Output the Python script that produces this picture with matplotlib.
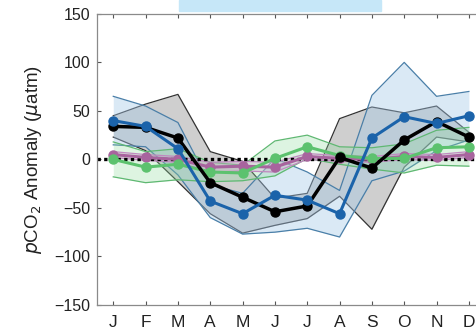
import numpy as np
import matplotlib
matplotlib.use('Agg')
from matplotlib import pyplot as plt
from matplotlib.patches import Rectangle

plt.rcParams['font.family'] = ['Liberation Sans', 'DejaVu Sans']

months = ['J', 'F', 'M', 'A', 'M', 'J', 'J', 'A', 'S', 'O', 'N', 'D']
month_num = np.arange(1, 13)

# mean anomaly and spread for each series (uatm)
black_mean = [34, 33, 22, -24, -39, -54, -48, 2, -9, 20, 39, 23]
black_sd = [11, 24, 45, 32, 37, 14, 13, 40, 63, 28, 16, 5]
blue_mean = [40, 34, 11, -43, -56, -37, -42, -56, 22, 44, 37, 45]
blue_sd = [25, 21, 27, 17, 21, 38, 29, 24, 44, 56, 28, 25]
green_mean = [0, -8, -5, -13, -14, 1, 13, 4, 1, 1, 12, 13]
green_sd = [18, 16, 16, 10, 8, 18, 12, 9, 11, 15, 18, 20]
purple_mean = [5, 2, 0, -8, -7, -8, 3, 1, 0, 3, 2, 5]
purple_sd = [3, 3, 3, 5, 5, 5, 3, 3, 3, 3, 3, 3]

yticks = [-150, -100, -50, 0, 50, 100, 150]

fig = plt.figure(figsize=(4.76, 3.3), dpi=100)
ax = fig.add_axes([0.204, 0.076, 0.815, 0.882])

def band(mean, sd, fill, edge, alpha, z):
    mean = np.array(mean, dtype=float)
    sd = np.array(sd, dtype=float)
    ax.fill_between(month_num, mean - sd, mean + sd, color=fill, alpha=alpha, lw=0, zorder=z)
    ax.plot(month_num, mean + sd, color=edge, lw=0.9, zorder=z + 0.1)
    ax.plot(month_num, mean - sd, color=edge, lw=0.9, zorder=z + 0.1)

band(black_mean, black_sd, '#8e8e8e', '#333333', 0.42, 1)
band(blue_mean, blue_sd, '#a4c8e8', '#4a7fa8', 0.4, 1.2)
band(green_mean, green_sd, '#8fdc9c', '#5fb872', 0.3, 1.4)
band(purple_mean, purple_sd, '#d8a8d4', '#c08ac0', 0.35, 1.6)

ax.axhline(0, color='black', lw=2.4, ls=(0, (1, 1)), zorder=2)

ax.plot(month_num, purple_mean, color='#a8649e', lw=2.2, marker='o', ms=6.5, zorder=3)
ax.plot(month_num, green_mean, color='#5cc26e', lw=2.2, marker='o', ms=6.5, zorder=3.2)
ax.plot(month_num, black_mean, color='black', lw=2.5, marker='o', ms=6.5, zorder=3.4)
ax.plot(month_num, blue_mean, color='#1b63aa', lw=2.2, marker='o', ms=6.5, zorder=3.6)

ax.set_xlim(0.5, 12.5)
ax.set_ylim(-150, 150)
ax.set_xticks(month_num)
ax.set_xticklabels(months)
ax.set_yticks(yticks)
ax.tick_params(direction='in', length=3, width=0.8, color='#555555',
               top=True, right=True, labelcolor='#222222')
ax.tick_params(axis='x', pad=7, labelsize=12.5)
ax.tick_params(axis='y', pad=5, labelsize=11.5)
for s in ax.spines.values():
    s.set_color('#8a8a8a')
    s.set_linewidth(0.9)

ax.set_ylabel(r'$\it{p}$CO$_2$ Anomaly ($\it{\mu}$atm)', fontsize=13.5, color='#222222', labelpad=7)

# partly visible legend box at the top
fig.patches.append(Rectangle((179 / 476, 1 - 11 / 330), 202 / 476, 11 / 330,
                             transform=fig.transFigure, color='#c6e7f8', zorder=5))

fig.savefig('out.png', dpi=100)
